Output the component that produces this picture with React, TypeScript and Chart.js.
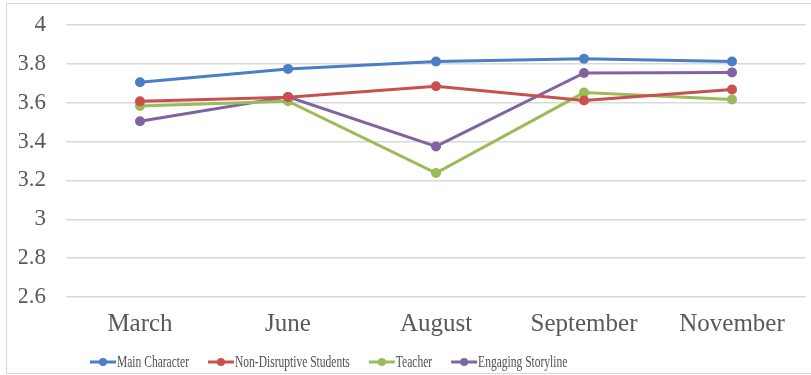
import React, { useEffect, useRef } from "react";
import { Chart, registerables } from "chart.js";

Chart.register(...registerables);

const categories = ["March", "June", "August", "September", "November"];
const seriesNames = ["Main Character", "Non-Disruptive Students", "Teacher", "Engaging Storyline"];
const mainCharacter = [3.705, 3.774, 3.812, 3.826, 3.812];
const nonDisruptive = [3.607, 3.628, 3.685, 3.612, 3.668];
const teacher = [3.583, 3.608, 3.238, 3.652, 3.617];
const engagingStoryline = [3.505, 3.630, 3.375, 3.753, 3.756];
const seriesColors = ["#4A7EC6", "#C8504D", "#9BBB59", "#8064A2"];
const yMin = 2.6;
const yMax = 4;
const yStep = 0.2;

const FONT = "'Liberation Serif', 'Times New Roman', serif";

const framePlugin = {
  id: "frame",
  beforeDraw(chart: any) {
    const ctx = chart.ctx;
    ctx.save();
    ctx.fillStyle = "#ffffff";
    ctx.fillRect(0, 0, chart.width, chart.height);
    ctx.strokeStyle = "#d9d9d9";
    ctx.lineWidth = 1;
    ctx.strokeRect(6.5, 3.5, chart.width + 10, chart.height - 5);
    ctx.restore();
  },
};

const legendPlugin = {
  id: "customLegend",
  afterDraw(chart: any) {
    const ctx = chart.ctx;
    const y = 362;
    let x = 90;
    const sx = 0.72;
    ctx.save();
    ctx.font = `16px ${FONT}`;
    ctx.textBaseline = "middle";
    chart.data.datasets.forEach((ds: any) => {
      const color = ds.borderColor;
      ctx.strokeStyle = color;
      ctx.lineWidth = 3;
      ctx.beginPath();
      ctx.moveTo(x, y);
      ctx.lineTo(x + 26, y);
      ctx.stroke();
      ctx.fillStyle = color;
      ctx.beginPath();
      ctx.arc(x + 13, y, 4, 0, Math.PI * 2);
      ctx.fill();
      const tx = x + 27;
      const w = ctx.measureText(ds.label).width * sx;
      ctx.save();
      ctx.translate(tx, y);
      ctx.scale(sx, 1);
      ctx.fillStyle = "#505050";
      ctx.fillText(ds.label, 0, 1);
      ctx.restore();
      x = tx + w + 19;
    });
    ctx.restore();
  },
};

export default function App() {
  const canvasRef = useRef<HTMLCanvasElement | null>(null);

  useEffect(() => {
    if (!canvasRef.current) return;
    const values = [mainCharacter, nonDisruptive, teacher, engagingStoryline];
    const chart = new Chart(canvasRef.current, {
      type: "line",
      data: {
        labels: categories,
        datasets: seriesNames.map((name, i) => ({
          label: name,
          data: values[i],
          borderColor: seriesColors[i],
          backgroundColor: seriesColors[i],
          borderWidth: 3,
          pointRadius: 5,
          pointHoverRadius: 5,
          pointBorderWidth: 0,
          tension: 0,
          fill: false,
        })),
      },
      options: {
        responsive: false,
        maintainAspectRatio: false,
        animation: false,
        layout: { padding: { left: 19, right: 0, top: 25, bottom: 36 } },
        plugins: {
          legend: { display: false },
          tooltip: { enabled: false },
        },
        scales: {
          x: {
            offset: true,
            grid: { display: false, drawTicks: false },
            border: { display: false },
            afterFit: (scale: any) => {
              scale.height = 42;
              scale.paddingLeft = 0;
              scale.paddingRight = 0;
            },
            ticks: {
              color: "#595959",
              font: { family: FONT, size: 25 },
              padding: 12,
              maxRotation: 0,
            },
          },
          y: {
            min: yMin,
            max: yMax,
            grid: { color: "#d9d9d9", lineWidth: 1.5, drawTicks: false },
            border: { display: false },
            afterFit: (scale: any) => {
              scale.width = 47;
              scale.paddingTop = 0;
              scale.paddingBottom = 0;
            },
            ticks: {
              stepSize: yStep,
              color: "#595959",
              font: { family: FONT, size: 23 },
              padding: 20,
              callback: (v: any) => String(Math.round(Number(v) * 10) / 10),
            },
          },
        },
      },
      plugins: [framePlugin, legendPlugin],
    });
    return () => chart.destroy();
  }, []);

  return (
    <div style={{ position: "absolute", left: 0, top: 0, width: 811, height: 375 }}>
      <canvas ref={canvasRef} width={811} height={375} style={{ display: "block" }} />
    </div>
  );
}
